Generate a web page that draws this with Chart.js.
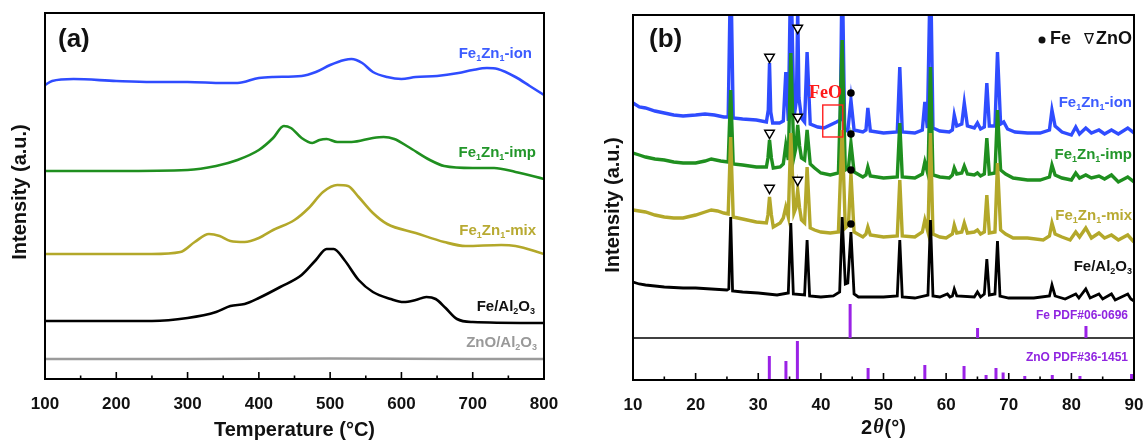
<!DOCTYPE html>
<html>
<head>
<meta charset="utf-8">
<script src="https://cdn.jsdelivr.net/npm/chart.js@4.4.1/dist/chart.umd.min.js"></script>
<style>
  html, body { margin: 0; padding: 0; background: #fff; }
  #wrap { position: relative; width: 1143px; height: 442px; overflow: hidden; }
  #tpr { position: absolute; left: 0; top: 0; }
  #xrd { position: absolute; left: 590px; top: 0; }
</style>
</head>
<body>
<div id="wrap">
  <canvas id="tpr" width="590" height="442"></canvas>
  <canvas id="xrd" width="553" height="442"></canvas>
</div>
<script>
// ---- (a) H2-TPR, temperature (°C) vs intensity (a.u., curves stacked) ----
const ionT = [100, 110, 140, 200, 250, 300, 350, 370, 400, 420, 460, 480, 500, 520, 530, 545, 560, 580, 600, 620, 650, 680, 700, 720, 735, 760, 780, 800];
const ionV = [294, 298, 300, 298, 297, 297, 296, 296, 301, 302, 303, 307, 314, 319, 320, 316, 307, 302, 300, 302, 303, 306, 309, 311, 310, 302, 293, 284];
const impT = [100, 200, 300, 340, 370, 400, 420, 435, 445, 460, 475, 485, 495, 510, 530, 560, 575, 590, 610, 640, 660, 700, 730, 760, 800];
const impV = [208, 208, 209, 213, 219, 229, 241, 253, 251, 241, 236, 239, 240, 237, 237, 241, 242, 240, 232, 219, 213, 211, 211, 207, 200];
const mixT = [100, 250, 290, 310, 330, 345, 360, 380, 400, 420, 450, 470, 490, 510, 525, 540, 560, 580, 620, 660, 690, 740, 760, 800];
const mixV = [125, 125, 127, 137, 145, 143, 138, 137, 141, 149, 159, 171, 187, 194, 193, 182, 166, 155, 146, 137, 133, 134, 133, 125];
const feT = [100, 250, 300, 340, 360, 380, 400, 430, 460, 480, 495, 505, 520, 540, 560, 585, 603, 620, 635, 648, 662, 678, 700, 800];
const feV = [58, 58, 61, 67, 73, 75, 81, 92, 104, 119, 130, 130, 119, 99, 87, 80, 77, 79, 82, 80, 71, 60, 57, 56];
const znoT = [100, 300, 500, 700, 800];
const znoV = [20, 20, 20.5, 20, 20];

// ---- (b) XRD patterns, [2theta, intensity] ----
const xrdIon = [[10,277],[11,273],[12,272],[13.5,269],[15,267],[16.5,265],[18,264],[20,265],[21.5,266],[23,265],[24.5,263],[25.2,263],[25.6,420],[26,262],[27.5,261],[29.7,260],[31.3,258],[31.6,270],[31.8,317],[32.0,268],[32.3,257],[33.4,257],[34,259],[34.4,308],[34.8,259],[35.2,420],[35.7,262],[36.1,280],[36.3,372],[36.5,282],[36.9,262],[37.4,258],[37.8,328],[38.3,256],[39.5,253],[40.5,252],[41.5,255],[42.5,258],[43.1,260],[43.4,420],[43.8,250],[44.3,249],[44.8,280],[45.3,250],[46.7,248],[47.2,250],[47.5,272],[47.9,249],[50,247],[52.2,248],[52.6,313],[53,248],[55,247],[56.2,250],[56.6,278],[57,252],[57.5,420],[57.9,252],[59,249],[60.5,248],[61,250],[61.3,265],[61.7,254],[62.5,256],[62.9,277],[63.4,254],[64.5,252],[65,257],[65.5,251],[66.1,253],[66.5,297],[66.9,254],[67.8,254],[68.2,328],[68.7,256],[69.2,258],[69.8,251],[71,248],[73,247],[75,247],[76.5,250],[76.9,270],[77.4,254],[78.5,248],[80,245],[80.7,253],[81.3,246],[82.3,252],[83.2,247],[84.4,250],[85.3,246],[86.4,250],[87.5,246],[89,252],[90,247]];
const xrdImp = [[10,227],[11,225],[12,223],[13.5,221],[15,220],[16.5,218],[18,217],[20,217],[21.5,219],[22.5,221],[24,219],[25.2,218],[25.6,290],[26,216],[27.5,215],[29.7,213],[31.3,213],[31.55,222],[31.8,240],[32.1,222],[32.4,212],[33.5,213],[34,216],[34.4,235],[34.8,220],[35.2,327],[35.7,223],[36.0,232],[36.3,255],[36.6,234],[36.9,222],[37.4,220],[37.8,250],[38.3,216],[39,212],[40,207],[41.5,205],[42.8,207],[43.4,340],[43.9,210],[44.4,212],[44.8,237],[45.3,208],[46.7,203],[47.2,205],[47.5,213],[47.9,204],[50,202],[52.2,203],[52.6,257],[53,203],[55,202],[56.2,206],[56.6,218],[57.1,206],[57.5,313],[57.9,205],[59,203],[60.5,202],[61,205],[61.3,212],[61.7,206],[62.5,207],[62.9,214],[63.4,206],[64.5,205],[65,207],[65.5,204],[66.1,206],[66.5,242],[66.9,206],[67.8,207],[68.2,270],[68.7,210],[69.5,206],[70.7,202],[73,200],[75,200],[76.5,203],[76.9,215],[77.4,205],[78.5,202],[80,200],[80.7,207],[81.3,202],[82.3,205],[83.2,202],[84.4,204],[85.3,201],[86.4,205],[87.5,198],[89,203],[90,198]];
const xrdMix = [[10,170],[11,169],[12,168],[13.5,165],[15,163],[16.5,162],[18,162],[20,165],[21.5,168],[22.5,170],[23.5,169],[24.5,167],[25.2,166],[25.6,243],[26,163],[27.5,161],[29.7,158],[31.3,157],[31.55,165],[31.8,183],[32.1,165],[32.4,153],[33.5,157],[34,162],[34.4,173],[34.8,163],[35.2,247],[35.7,167],[36.0,172],[36.3,190],[36.6,172],[36.9,160],[37.4,157],[37.8,213],[38.3,152],[39,150],[40,148],[41.5,147],[42.8,148],[43.4,250],[43.9,152],[44.4,155],[44.8,207],[45.3,148],[46.7,143],[47.2,146],[47.5,153],[47.9,145],[50,143],[52.2,144],[52.6,200],[53,144],[55,143],[56.2,148],[56.6,160],[57.1,148],[57.5,247],[57.9,146],[59,143],[60,142],[61,146],[61.3,155],[61.7,147],[62.5,148],[62.9,157],[63.4,147],[64.5,148],[65,150],[65.5,146],[66.1,148],[66.5,185],[66.9,147],[67.8,148],[68.2,217],[68.7,150],[69.5,146],[70.7,142],[73,142],[75.5,140],[76.5,144],[76.9,157],[77.4,146],[78.5,143],[79.8,140],[80.7,148],[81.3,143],[82.3,152],[83.2,142],[84.4,147],[85.3,142],[86.4,145],[87.5,140],[89,145],[90,138]];
const xrdFe = [[10,98],[11,96],[12,95],[15,93],[18,92],[20,92],[22.5,91],[25,90],[25.3,91],[25.6,163],[25.9,89],[27.5,88],[30,87],[33,85],[34.8,87],[35.2,157],[35.6,86],[37.4,85],[37.8,140],[38.2,84],[40,83],[42,84],[43,88],[43.4,163],[43.9,96],[44.3,97],[44.8,148],[45.3,86],[46,83],[48,83],[50,83],[52.2,84],[52.6,140],[53,83],[55,82],[57.1,85],[57.5,160],[57.9,84],[59,83],[60.2,86],[60.6,83],[61,84],[61.3,91],[61.7,84],[64.5,83],[65,88],[65.5,83],[66.1,86],[66.5,121],[66.9,85],[67.8,86],[68.2,139],[68.6,84],[70,82],[72,82],[74,82],[76.5,84],[76.9,95],[77.4,84],[79,81],[80.7,86],[81.2,82],[82.3,91],[83,82],[84.4,86],[85,81],[86.4,86],[87,80],[89,86],[89.5,81],[90,79]];

// reference cards (stick heights)
const pdfBase = 42;
const fePdfPos = [44.67, 65.02, 82.33];
const fePdfH = [34, 10, 12];
const znoPdfPos = [31.77, 34.42, 36.25, 47.54, 56.60, 62.86, 66.38, 67.96, 69.10, 72.56, 76.95, 81.37, 89.61];
const znoPdfH = [24, 19, 39, 12, 15, 14, 5, 12, 7.5, 4, 5, 4, 6];

// phase markers
const znoMarkX = [31.8, 36.3, 36.3, 31.8, 31.8, 36.3];
const znoMarkY = [323, 352, 263, 247, 192, 200];
const feMarkX = [44.8, 44.8, 44.8, 44.8];
const feMarkY = [287, 246, 210, 156];

const FONT = '"Liberation Sans", Arial, Helvetica, sans-serif';
const BLUE = '#2f4cff', GREEN = '#1f8f1f', OLIVE = '#b3a82a', GRAY = '#9b9b9b', PURPLE = '#9a22e6';

const pts = (xs, ys) => xs.map((x, i) => ({ x, y: ys[i] }));
const pairs = arr => arr.map(p => ({ x: p[0], y: p[1] }));
function sticks(pos, h, base) {
  const out = [];
  pos.forEach((p, i) => { out.push({ x: p, y: base }, { x: p, y: base + h[i] }, { x: p, y: null }); });
  return out;
}

function fixAxis(h) {
  return scale => { scale.height = h; scale.paddingLeft = 0; scale.paddingRight = 0; };
}

// text with subscripts: parts = [[text, isSub], ...]
function rich(ctx, parts, x, y, size, color, align) {
  ctx.save();
  ctx.fillStyle = color;
  ctx.textBaseline = 'middle';
  ctx.textAlign = 'left';
  const sub = Math.round(size * 0.62);
  let w = 0;
  parts.forEach(p => { ctx.font = `bold ${p[1] ? sub : size}px ${FONT}`; w += ctx.measureText(p[0]).width; });
  let cx = align === 'right' ? x - w : x;
  parts.forEach(p => {
    ctx.font = `bold ${p[1] ? sub : size}px ${FONT}`;
    ctx.fillText(p[0], cx, p[1] ? y + size * 0.3 : y);
    cx += ctx.measureText(p[0]).width;
  });
  ctx.restore();
}

function frameAndTicks(chart, major) {
  const { ctx, chartArea: a } = chart;
  const xs = chart.scales.x;
  ctx.save();
  ctx.strokeStyle = '#000';
  ctx.lineWidth = 1.6;
  xs.ticks.forEach(t => {
    const px = xs.getPixelForValue(t.value);
    const len = Math.abs(t.value % major) < 1e-6 ? 7 : 3.5;
    ctx.beginPath(); ctx.moveTo(px, a.bottom); ctx.lineTo(px, a.bottom - len); ctx.stroke();
  });
  ctx.lineWidth = 2;
  ctx.strokeRect(a.left, a.top, a.right - a.left, a.bottom - a.top);
  ctx.restore();
}

function yTitle(ctx, x, y) {
  ctx.save();
  ctx.translate(x, y);
  ctx.rotate(-Math.PI / 2);
  ctx.font = `bold 20px ${FONT}`;
  ctx.fillStyle = '#111';
  ctx.textAlign = 'center';
  ctx.textBaseline = 'middle';
  ctx.fillText('Intensity (a.u.)', 0, 0);
  ctx.restore();
}

const sample = (label) => [['Fe'], ['1', 1], ['Zn'], ['1', 1], ['-' + label]];

const tprDecor = {
  id: 'tprDecor',
  afterDatasetsDraw(chart) {
    const ctx = chart.ctx;
    frameAndTicks(chart, 100);
    ctx.save();
    ctx.fillStyle = '#111';
    ctx.font = `bold 26px ${FONT}`;
    ctx.textBaseline = 'middle';
    ctx.fillText('(a)', 58, 40);
    ctx.font = `bold 20px ${FONT}`;
    ctx.textAlign = 'center';
    ctx.fillText('Temperature (°C)', (chart.chartArea.left + chart.chartArea.right) / 2, 430);
    ctx.restore();
    yTitle(ctx, 20, 192);
    rich(ctx, sample('ion'), 532, 54, 15, '#3c5cff', 'right');
    rich(ctx, sample('imp'), 536, 153, 15, '#22962a', 'right');
    rich(ctx, sample('mix'), 536, 231, 15, '#b8aa32', 'right');
    rich(ctx, [['Fe/Al'], ['2', 1], ['O'], ['3', 1]], 535, 307, 15, '#111', 'right');
    rich(ctx, [['ZnO/Al'], ['2', 1], ['O'], ['3', 1]], 537, 343, 15, '#999', 'right');
  }
};

const xrdDecor = {
  id: 'xrdDecor',
  beforeDatasetsDraw(chart) {
    const { ctx, chartArea: a } = chart;
    const py = chart.scales.y.getPixelForValue(pdfBase);
    ctx.save();
    ctx.strokeStyle = '#000';
    ctx.lineWidth = 1.6;
    ctx.beginPath(); ctx.moveTo(a.left, py); ctx.lineTo(a.right, py); ctx.stroke();
    ctx.restore();
  },
  afterDatasetsDraw(chart) {
    const ctx = chart.ctx;
    const xs = chart.scales.x, ys = chart.scales.y;
    frameAndTicks(chart, 10);
    // FeO box
    const x0 = xs.getPixelForValue(40.3), x1 = xs.getPixelForValue(43.5);
    const y0 = ys.getPixelForValue(275), y1 = ys.getPixelForValue(243);
    ctx.save();
    ctx.strokeStyle = '#ff2020';
    ctx.lineWidth = 1.4;
    ctx.strokeRect(x0, y0, x1 - x0, y1 - y0);
    ctx.fillStyle = '#ff1a1a';
    ctx.font = 'bold 18px "Liberation Serif", "Times New Roman", serif';
    ctx.textBaseline = 'middle';
    ctx.fillText('FeO', 219, 93);
    // panel letter
    ctx.fillStyle = '#111';
    ctx.font = `bold 26px ${FONT}`;
    ctx.fillText('(b)', 59, 40);
    // legend: • Fe  ∇ ZnO
    ctx.font = `bold 18px ${FONT}`;
    ctx.textAlign = 'right';
    ctx.fillText('ZnO', 542, 39);
    ctx.font = `15px "DejaVu Sans", ${FONT}`;
    ctx.fillText('∇', 504, 40);
    ctx.font = `bold 18px ${FONT}`;
    ctx.fillText('Fe', 481, 39);
    ctx.beginPath(); ctx.arc(452, 40, 3.5, 0, Math.PI * 2); ctx.fill();
    // x title with italic theta
    ctx.textAlign = 'left';
    ctx.font = `bold 20px ${FONT}`;
    const cxm = (chart.chartArea.left + chart.chartArea.right) / 2;
    const w2 = ctx.measureText('2').width, wd = ctx.measureText('(°)').width;
    ctx.font = `italic bold 20px "Liberation Serif", serif`;
    const wt = ctx.measureText('θ').width;
    let sx = cxm - (w2 + wt + wd + 2) / 2;
    ctx.font = `bold 20px ${FONT}`;
    ctx.fillText('2', sx, 428);
    ctx.font = `italic bold 20px "Liberation Serif", serif`;
    ctx.fillText('θ', sx + w2 + 1, 428);
    ctx.font = `bold 20px ${FONT}`;
    ctx.fillText('(°)', sx + w2 + wt + 2, 428);
    ctx.restore();
    yTitle(ctx, 23, 205);
    rich(ctx, sample('ion'), 542, 103, 15, '#3c5cff', 'right');
    rich(ctx, sample('imp'), 542, 155, 15, '#22962a', 'right');
    rich(ctx, sample('mix'), 542, 216, 15, '#b8aa32', 'right');
    rich(ctx, [['Fe/Al'], ['2', 1], ['O'], ['3', 1]], 542, 267, 15, '#111', 'right');
    rich(ctx, [['Fe PDF#06-0696']], 538, 316, 12, '#9025e0', 'right');
    rich(ctx, [['ZnO PDF#36-1451']], 538, 358, 12, '#9025e0', 'right');
  }
};

const tickFont = { family: FONT, size: 17, weight: 'bold' };
const line = (data, color, w, order) => ({ data, borderColor: color, borderWidth: w, pointRadius: 0, fill: false, order });

new Chart(document.getElementById('tpr'), {
  type: 'line',
  data: {
    datasets: [
      { ...line(pts(ionT, ionV), BLUE, 2.6, 0), cubicInterpolationMode: 'monotone' },
      { ...line(pts(impT, impV), GREEN, 2.6, 1), cubicInterpolationMode: 'monotone' },
      { ...line(pts(mixT, mixV), OLIVE, 2.6, 2), cubicInterpolationMode: 'monotone' },
      { ...line(pts(feT, feV), '#000', 2.6, 3), cubicInterpolationMode: 'monotone' },
      { ...line(pts(znoT, znoV), GRAY, 2.6, 4), cubicInterpolationMode: 'monotone' }
    ]
  },
  options: {
    responsive: false,
    animation: false,
    layout: { padding: { left: 45, right: 46, top: 13, bottom: 0 } },
    plugins: { legend: { display: false }, tooltip: { enabled: false } },
    scales: {
      x: {
        type: 'linear', min: 100, max: 800,
        ticks: { stepSize: 50, autoSkip: false, maxRotation: 0, padding: 7, color: '#111', font: tickFont,
                 callback: v => (v % 100 === 0 ? v : '') },
        grid: { display: false }, border: { display: false },
        afterFit: fixAxis(63)
      },
      y: { display: false, min: 0, max: 366 }
    }
  },
  plugins: [tprDecor]
});

new Chart(document.getElementById('xrd'), {
  type: 'line',
  data: {
    datasets: [
      { type: 'scatter', data: pts(znoMarkX, znoMarkY), pointStyle: 'triangle', rotation: 180, pointRadius: 5.5,
        pointBackgroundColor: '#fff', pointBorderColor: '#000', pointBorderWidth: 1.5, order: -2 },
      { type: 'scatter', data: pts(feMarkX, feMarkY), pointStyle: 'circle', pointRadius: 3.8,
        pointBackgroundColor: '#000', pointBorderColor: '#000', pointBorderWidth: 0, order: -1 },
      line(pairs(xrdFe), '#000', 2.8, 0),
      line(pairs(xrdMix), OLIVE, 3.4, 1),
      line(pairs(xrdImp), GREEN, 3.4, 2),
      line(pairs(xrdIon), BLUE, 3.4, 3),
      { ...line(sticks(fePdfPos, fePdfH, pdfBase), PURPLE, 3, 4), spanGaps: false, borderCapStyle: 'butt' },
      { ...line(sticks(znoPdfPos, znoPdfH, 0), PURPLE, 3, 5), spanGaps: false, borderCapStyle: 'butt' }
    ]
  },
  options: {
    responsive: false,
    animation: false,
    layout: { padding: { left: 43, right: 9, top: 15, bottom: 0 } },
    plugins: { legend: { display: false }, tooltip: { enabled: false } },
    scales: {
      x: {
        type: 'linear', min: 10, max: 90,
        ticks: { stepSize: 5, autoSkip: false, maxRotation: 0, padding: 7, color: '#111', font: tickFont,
                 callback: v => (v % 10 === 0 ? v : '') },
        grid: { display: false }, border: { display: false },
        afterFit: fixAxis(62)
      },
      y: { display: false, min: 0, max: 365 }
    }
  },
  plugins: [xrdDecor]
});
</script>
</body>
</html>
